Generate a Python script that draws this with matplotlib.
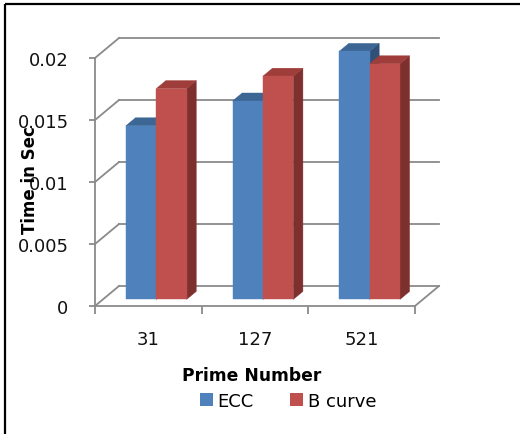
import matplotlib
matplotlib.use("Agg")
import matplotlib.pyplot as plt
from matplotlib.patches import Polygon, Patch
from matplotlib.lines import Line2D
from matplotlib.ticker import FixedLocator, FixedFormatter, NullFormatter

# ---- data -------------------------------------------------------------
categories = ["31", "127", "521"]
ecc_times = [0.014, 0.016, 0.020]
bcurve_times = [0.017, 0.018, 0.019]
series_names = ["ECC", "B curve"]
y_ticks = [0, 0.005, 0.01, 0.015, 0.02]
y_tick_labels = ["0", "0.005", "0.01", "0.015", "0.02"]

# ---- styling ----------------------------------------------------------
FONT = "DejaVu Sans"
GRID = "#8a8a8a"
FACE = {"ECC": ("#4F81BD", "#3C6694", "#2F5178"),      # front, top, side
        "B curve": ("#C0504D", "#9E3D3A", "#7E302E")}

W, H = 521, 435
fig = plt.figure(figsize=(W / 100, H / 100), dpi=100)
fig.patch.set_facecolor("white")

# axes = front plane of the 3D box
left_px, right_px, top_px, bottom_px = 95, 415, 59, 307
ax = fig.add_axes([left_px / W, 1 - bottom_px / H,
                   (right_px - left_px) / W, (bottom_px - top_px) / H])
n = len(categories)
ymax = y_ticks[-1]
ax.set_xlim(0, n)
ax.set_ylim(0, ymax)
ax.patch.set_visible(False)

# oblique depth offset of the back wall, in data units
DX = 24 / ((right_px - left_px) / n)
DY = 20 / ((bottom_px - top_px) / ymax)


def proj(x, y, d):
    return (x + d * DX, y + d * DY)


# spines: front vertical axis and front floor edge
for s in ["top", "right"]:
    ax.spines[s].set_visible(False)
for s in ["left", "bottom"]:
    ax.spines[s].set_color(GRID)
    ax.spines[s].set_linewidth(1.3)

# y axis ticks on the front plane
ax.yaxis.set_major_locator(FixedLocator(y_ticks))
ax.yaxis.set_major_formatter(FixedFormatter(y_tick_labels))
ax.tick_params(axis="y", direction="out", length=4, width=1.3, color=GRID,
               pad=15, labelsize=13, labelcolor="#111111")

# x axis: boundary ticks, labels centred on categories
ax.xaxis.set_major_locator(FixedLocator(list(range(n + 1))))
ax.xaxis.set_major_formatter(NullFormatter())
ax.xaxis.set_minor_locator(FixedLocator([i + 0.5 for i in range(n)]))
ax.xaxis.set_minor_formatter(FixedFormatter(categories))
ax.tick_params(axis="x", which="major", direction="out", length=6, width=1.3, color=GRID)
ax.tick_params(axis="x", which="minor", length=0, pad=17.5, labelsize=13, labelcolor="#111111")
for lab in ax.get_yticklabels() + ax.get_xticklabels(minor=True):
    lab.set_fontfamily(FONT)

# back wall gridlines and side wall diagonals
for v in y_ticks:
    x0, y0 = proj(0, v, 1)
    x1, y1 = proj(n, v, 1)
    ax.plot([x0, x1], [y0, y1], color=GRID, lw=1.3, clip_on=False, zorder=1)
    ax.plot([0, x0], [v, y0], color=GRID, lw=1.3, clip_on=False, zorder=1)
# floor right edge
xr, yr = proj(n, 0, 1)
ax.plot([n, xr], [0, yr], color=GRID, lw=1.3, clip_on=False, zorder=1)

# 3D columns
bar_w = 0.285
d_front, d_back = 0.33, 0.73


def column(x0, x1, v, colors):
    front, top, side = colors
    faces = [
        ([proj(x1, 0, d_front), proj(x1, v, d_front), proj(x1, v, d_back), proj(x1, 0, d_back)], side),
        ([proj(x0, v, d_front), proj(x1, v, d_front), proj(x1, v, d_back), proj(x0, v, d_back)], top),
        ([proj(x0, 0, d_front), proj(x1, 0, d_front), proj(x1, v, d_front), proj(x0, v, d_front)], front),
    ]
    for pts, c in faces:
        ax.add_patch(Polygon(pts, closed=True, facecolor=c, edgecolor=c, lw=0.3,
                             clip_on=False, zorder=3))


for i in range(n):
    c = i + 0.5
    column(c - bar_w, c, ecc_times[i], FACE["ECC"])
    column(c, c + bar_w, bcurve_times[i], FACE["B curve"])

# axis titles
ax.set_xlabel("Prime Number", fontsize=12.3, fontweight="bold", family=FONT)
ax.xaxis.set_label_coords(0.49, -0.243)
ax.set_ylabel("Time in Sec", fontsize=12, fontweight="bold", family=FONT)
ax.yaxis.set_label_coords(-0.176, 0.51)

# legend
handles = [Patch(facecolor=FACE[s][0], edgecolor="none") for s in series_names]
fig.legend(handles, series_names, loc="center", bbox_to_anchor=(288 / W, 1 - 402 / H),
           ncol=2, frameon=False, handlelength=0.75, handleheight=0.75,
           handletextpad=0.25, columnspacing=2.0,
           prop={"family": FONT, "size": 13})

# outer frame: left and top edges
fig.add_artist(Line2D([5 / W, 5 / W], [0, 1 - 5 / H], color="black", lw=1.6,
                      solid_capstyle="butt", transform=fig.transFigure))
fig.add_artist(Line2D([5 / W, 1 - 1 / W], [1 - 5 / H, 1 - 5 / H], color="black", lw=1.6,
                      solid_capstyle="butt", transform=fig.transFigure))

fig.savefig("out.png", dpi=100, facecolor="white")
